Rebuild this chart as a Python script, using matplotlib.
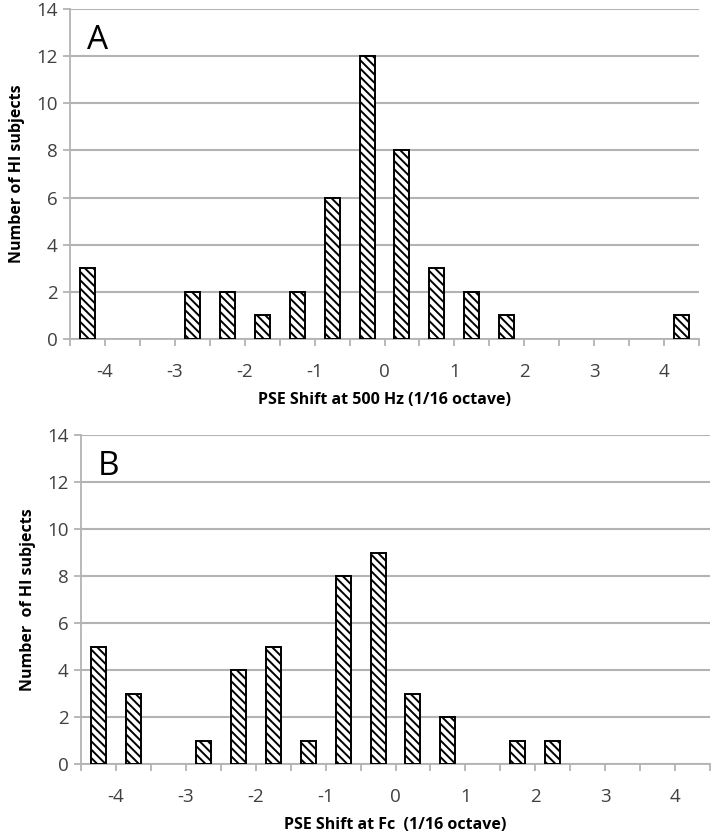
import numpy as np
import matplotlib
matplotlib.use('Agg')
import matplotlib.pyplot as plt

plt.rcParams['font.family'] = ['Open Sans', 'DejaVu Sans']
plt.rcParams['hatch.linewidth'] = 1.4

# bin centres (1/16 octave), shared by both panels
shift_bins = np.arange(-4.25, 4.26, 0.5)
counts_500hz = [3, 0, 0, 2, 2, 1, 2, 6, 12, 8, 3, 2, 1, 0, 0, 0, 0, 1]
counts_fc = [5, 3, 0, 1, 4, 5, 1, 8, 9, 3, 2, 0, 1, 1, 0, 0, 0, 0]

panels = [
    ('A', counts_500hz, 'PSE Shift at 500 Hz (1/16 octave)', 'Number of HI subjects',
     [70/713, 1 - 339/836, 629/713, 330/836]),
    ('B', counts_fc, 'PSE Shift at Fc  (1/16 octave)', 'Number  of HI subjects',
     [81/713, 1 - 764/836, 629/713, 329/836]),
]

grid_col = '#b3b3b3'
text_col = '#404040'

fig = plt.figure(figsize=(7.13, 8.36), dpi=100)

for letter, counts, xlabel, ylabel, rect in panels:
    ax = fig.add_axes(rect)
    nonzero = [i for i, c in enumerate(counts) if c > 0]
    ax.bar(shift_bins[nonzero], np.array(counts)[nonzero], width=0.215,
           color='white', edgecolor='black', linewidth=1.4, hatch='\\\\\\\\', zorder=3)

    ticks = np.arange(-4.5, 4.51, 0.5)
    ax.set_xlim(-4.5, 4.5)
    ax.set_ylim(0, 14)
    ax.set_yticks(range(0, 15, 2))
    ax.set_xticks(ticks)
    ax.set_xticklabels(['' if abs(t - round(t)) > 1e-6 else '%d' % round(t) for t in ticks])
    ax.yaxis.grid(True, color=grid_col, linewidth=1.5, zorder=0)
    ax.set_axisbelow(True)

    for s in ['top', 'right']:
        ax.spines[s].set_visible(False)
    for s in ['left', 'bottom']:
        ax.spines[s].set_color(grid_col)
        ax.spines[s].set_linewidth(1.3)

    ax.tick_params(axis='x', direction='out', length=5, width=1.3, color=grid_col,
                   labelsize=13.5, labelcolor=text_col, pad=12)
    ax.tick_params(axis='y', direction='out', length=5, width=1.3, color=grid_col,
                   labelsize=13.5, labelcolor=text_col, pad=4)

    ax.set_xlabel(xlabel, fontsize=11.5, fontweight='bold', color='black', labelpad=8)
    ax.set_ylabel(ylabel, fontsize=11.5, fontweight='bold', color='black', labelpad=8)
    ax.text(0.027, 0.955, letter, transform=ax.transAxes, fontsize=24,
            ha='left', va='top', color='black')

fig.savefig('out.png', dpi=100)
